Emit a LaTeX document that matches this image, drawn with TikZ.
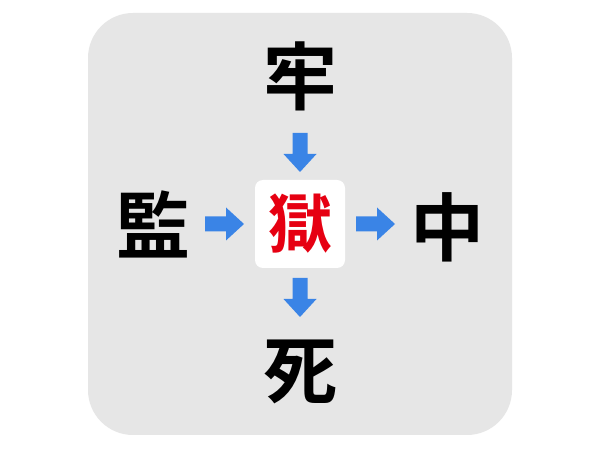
\documentclass[tikz,border=0pt]{standalone}
\usepackage{fontspec}
\newfontfamily\cjk{Noto Sans CJK JP Bold}
\definecolor{bggray}{RGB}{230,230,230}
\definecolor{arrowblue}{RGB}{58,132,230}
\definecolor{kred}{RGB}{230,0,18}
\tikzset{
  kanji/.style={font=\cjk\fontsize{74}{74}\selectfont, inner sep=0pt, text=black},
  centerkanji/.style={font=\cjk\fontsize{64}{64}\selectfont, inner sep=0pt, text=kred},
  blockarrow/.pic={\fill[arrowblue] (0,-7.5) -- (21,-7.5) -- (21,-16.5) -- (39,0) -- (21,16.5) -- (21,7.5) -- (0,7.5) -- cycle;}
}
\begin{document}
\begin{tikzpicture}[x=1pt,y=1pt]
\useasboundingbox (0,0) rectangle (600,450);
\fill[white] (0,0) rectangle (600,450);
\fill[bggray, rounded corners=45pt] (88,15) rectangle (512,437);
\fill[white, rounded corners=8pt] (255,182) rectangle (345,270);
\node[centerkanji] (c) at (300,226) {獄};
\node[kanji] (t) at (300,374) {牢};
\node[kanji] (l) at (153,226) {監};
\node[kanji] (r) at (447,223) {中};
\node[kanji] (b) at (300,78) {死};
\pic[rotate=-90] at (300,317) {blockarrow};
\pic[rotate=-90] at (300,172) {blockarrow};
\pic at (205,226) {blockarrow};
\pic at (356,226) {blockarrow};
\end{tikzpicture}
\end{document}
